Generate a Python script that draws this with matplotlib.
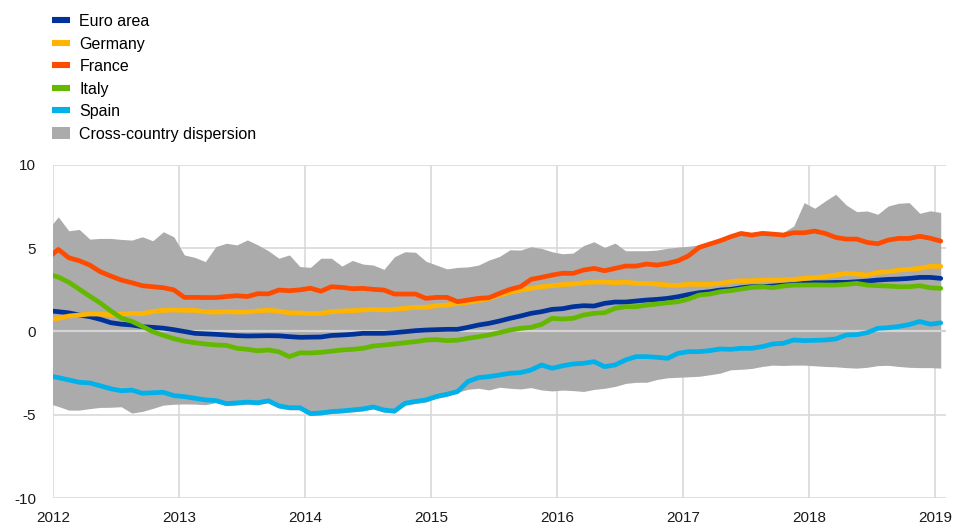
import numpy as np
import matplotlib
matplotlib.use('Agg')
import matplotlib.pyplot as plt
from matplotlib.lines import Line2D
from matplotlib.patches import Patch

# ==========================================
# 1. 全局配置
# ==========================================
plt.rcParams['font.family'] = ['Liberation Sans', 'DejaVu Sans']
plt.rcParams['font.size'] = 10.5
plt.rcParams['axes.unicode_minus'] = False

# ==========================================
# 2. 数据 (月度, 2011-12 ... 2019-01, 画在月中)
# ==========================================
start_year = 2012
n_months = 86  # Dec 2011 .. Jan 2019

euro_area = [1.25, 1.19, 1.12, 0.99, 0.89, 0.73, 0.53, 0.44, 0.39, 0.29, 0.25, 0.20, 0.11,
             0.00, -0.11, -0.14, -0.17, -0.21, -0.25, -0.27, -0.26, -0.25, -0.26, -0.31, -0.35,
             -0.34, -0.33, -0.24, -0.21, -0.17, -0.11, -0.11, -0.11, -0.07, -0.01, 0.05, 0.09,
             0.11, 0.13, 0.13, 0.25, 0.39, 0.49, 0.63, 0.79, 0.93, 1.09, 1.19, 1.33,
             1.37, 1.49, 1.55, 1.53, 1.69, 1.77, 1.77, 1.83, 1.89, 1.93, 1.99, 2.09,
             2.22, 2.33, 2.39, 2.49, 2.53, 2.63, 2.69, 2.69, 2.73, 2.79, 2.83, 2.89,
             2.93, 2.93, 2.95, 2.95, 2.99, 3.03, 3.09, 3.13, 3.15, 3.19, 3.25, 3.25, 3.19]

germany = [0.70, 0.79, 0.93, 0.99, 1.05, 1.05, 1.00, 1.05, 1.09, 1.07, 1.20, 1.27, 1.29,
           1.27, 1.27, 1.18, 1.16, 1.19, 1.17, 1.17, 1.23, 1.28, 1.22, 1.12, 1.11,
           1.08, 1.09, 1.19, 1.23, 1.25, 1.29, 1.33, 1.29, 1.33, 1.39, 1.45, 1.45,
           1.55, 1.59, 1.69, 1.75, 1.85, 1.99, 2.19, 2.35, 2.49, 2.59, 2.69, 2.75,
           2.82, 2.85, 2.93, 2.97, 2.97, 2.93, 2.97, 2.89, 2.89, 2.85, 2.79, 2.77,
           2.84, 2.83, 2.83, 2.89, 2.99, 3.05, 3.05, 3.09, 3.09, 3.09, 3.13, 3.19,
           3.24, 3.29, 3.39, 3.49, 3.45, 3.39, 3.55, 3.59, 3.69, 3.73, 3.79, 3.91, 3.91]

france = [4.40, 4.93, 4.43, 4.25, 3.99, 3.59, 3.33, 3.09, 2.93, 2.75, 2.69, 2.63, 2.50,
          2.05, 2.05, 2.04, 2.04, 2.10, 2.15, 2.10, 2.27, 2.26, 2.49, 2.45, 2.50,
          2.60, 2.42, 2.69, 2.65, 2.57, 2.59, 2.53, 2.49, 2.25, 2.25, 2.25, 1.99,
          2.05, 2.05, 1.79, 1.89, 1.99, 2.03, 2.29, 2.53, 2.69, 3.13, 3.25, 3.39,
          3.50, 3.49, 3.69, 3.79, 3.65, 3.79, 3.93, 3.93, 4.05, 3.99, 4.09, 4.25,
          4.55, 5.05, 5.25, 5.45, 5.69, 5.89, 5.79, 5.89, 5.85, 5.79, 5.93, 5.93,
          6.03, 5.89, 5.65, 5.55, 5.55, 5.35, 5.27, 5.49, 5.59, 5.59, 5.72, 5.60, 5.43]

italy = [3.45, 3.27, 2.96, 2.54, 2.12, 1.71, 1.24, 0.81, 0.61, 0.31, -0.01, -0.23, -0.43,
         -0.58, -0.67, -0.75, -0.81, -0.83, -1.01, -1.07, -1.16, -1.11, -1.22, -1.51, -1.28,
         -1.29, -1.25, -1.18, -1.11, -1.07, -1.01, -0.87, -0.81, -0.75, -0.67, -0.61, -0.51,
         -0.49, -0.55, -0.52, -0.41, -0.31, -0.21, -0.07, 0.09, 0.19, 0.25, 0.43, 0.79,
         0.75, 0.79, 0.99, 1.09, 1.13, 1.39, 1.49, 1.49, 1.59, 1.65, 1.73, 1.79,
         1.95, 2.19, 2.25, 2.39, 2.45, 2.55, 2.65, 2.69, 2.63, 2.73, 2.79, 2.79,
         2.80, 2.79, 2.79, 2.83, 2.89, 2.79, 2.75, 2.73, 2.69, 2.69, 2.75, 2.63, 2.59]

spain = [-2.65, -2.77, -2.91, -3.05, -3.09, -3.26, -3.44, -3.56, -3.52, -3.71, -3.68, -3.65, -3.85,
         -3.91, -4.01, -4.11, -4.15, -4.33, -4.29, -4.24, -4.28, -4.16, -4.47, -4.58, -4.58,
         -4.93, -4.89, -4.81, -4.77, -4.71, -4.65, -4.53, -4.72, -4.78, -4.31, -4.20, -4.11,
         -3.90, -3.77, -3.61, -3.00, -2.77, -2.71, -2.61, -2.51, -2.47, -2.31, -2.01, -2.21,
         -2.06, -1.95, -1.91, -1.81, -2.11, -2.01, -1.71, -1.51, -1.51, -1.55, -1.61, -1.31,
         -1.21, -1.21, -1.15, -1.05, -1.07, -1.01, -1.01, -0.91, -0.75, -0.71, -0.51, -0.55,
         -0.53, -0.51, -0.45, -0.21, -0.19, -0.07, 0.19, 0.23, 0.30, 0.42, 0.60, 0.44, 0.52]

disp_high = [6.10, 6.89, 6.05, 6.13, 5.55, 5.59, 5.59, 5.53, 5.49, 5.69, 5.45, 5.99, 5.69,
             4.60, 4.45, 4.20, 5.10, 5.30, 5.20, 5.50, 5.20, 4.85, 4.40, 4.60, 3.90,
             3.85, 4.40, 4.40, 3.93, 4.27, 4.05, 3.99, 3.73, 4.49, 4.79, 4.76, 4.22,
             3.99, 3.76, 3.85, 3.88, 3.99, 4.29, 4.51, 4.91, 4.89, 5.09, 4.99, 4.79,
             4.67, 4.71, 5.16, 5.39, 5.05, 5.31, 4.85, 4.85, 4.85, 4.89, 5.00, 5.07,
             5.12, 5.20, 5.40, 5.60, 5.85, 6.00, 5.95, 6.05, 6.00, 5.95, 6.33, 7.74,
             7.40, 7.84, 8.24, 7.60, 7.20, 7.24, 7.04, 7.54, 7.70, 7.74, 7.10, 7.25, 7.15]

disp_low = [-4.30, -4.50, -4.72, -4.72, -4.63, -4.56, -4.55, -4.52, -4.90, -4.80, -4.62, -4.42, -4.37,
            -4.35, -4.36, -4.40, -4.27, -4.45, -4.41, -4.36, -4.40, -4.28, -4.59, -4.70, -4.70,
            -5.05, -5.01, -4.93, -4.89, -4.83, -4.77, -4.65, -4.84, -4.90, -4.43, -4.32, -4.23,
            -4.02, -3.89, -3.65, -3.47, -3.41, -3.51, -3.35, -3.41, -3.45, -3.37, -3.51, -3.57,
            -3.52, -3.55, -3.60, -3.48, -3.41, -3.30, -3.12, -3.05, -3.05, -2.88, -2.78, -2.75,
            -2.72, -2.69, -2.60, -2.50, -2.30, -2.27, -2.22, -2.10, -2.02, -2.04, -2.02, -2.02,
            -2.06, -2.10, -2.12, -2.17, -2.20, -2.15, -2.05, -2.03, -2.10, -2.15, -2.17, -2.17, -2.20]

year_ticks = [2012, 2013, 2014, 2015, 2016, 2017, 2018, 2019]
y_ticks = [-10, -5, 0, 5, 10]

series = [
    ('Euro area', euro_area, '#003299'),
    ('Germany', germany, '#FFB400'),
    ('France', france, '#FF4B00'),
    ('Italy', italy, '#65B800'),
    ('Spain', spain, '#00B1EA'),
]
band_color = '#ABABAB'
band_label = 'Cross-country dispersion'

# 月中位置 (年的小数)
x = start_year + (np.arange(n_months) - 1 + 0.5) / 12.0

# ==========================================
# 3. 绘图
# ==========================================
fig = plt.figure(figsize=(9.6, 5.24), dpi=100)
ax = fig.add_axes([53 / 960, 1 - 498 / 524, (946 - 53) / 960, (498 - 165) / 524])

ax.fill_between(x, disp_low, disp_high, color=band_color, linewidth=0, zorder=2)
ax.axhline(0, color='#D4D4D4', linewidth=1.6, zorder=3)

# 按图例顺序画, 后画的在上面
for name, vals, col in series:
    ax.plot(x, vals, color=col, linewidth=3.4, solid_capstyle='round',
            solid_joinstyle='round', zorder=4)

ax.set_xlim(2012, 2019 + 1 / 12)
ax.set_ylim(-10, 10)
ax.set_xticks(year_ticks)
ax.set_xticklabels([str(y) for y in year_ticks])
ax.set_yticks(y_ticks)
ax.grid(True, color='#D9D9D9', linewidth=1.2, zorder=0)
ax.set_axisbelow(True)
for s in ax.spines.values():
    s.set_visible(False)
ax.tick_params(axis='both', length=0, labelsize=11, colors='#1a1a1a')
ax.tick_params(axis='x', pad=9)
ax.tick_params(axis='y', pad=12)

# 图例 (左上角, 图外)
handles = [Line2D([0], [0], color=col, linewidth=4.4, solid_capstyle='butt')
           for name, vals, col in series]
handles.append(Patch(facecolor=band_color, edgecolor='none'))
labels = [name for name, vals, col in series] + [band_label]
fig.legend(handles, labels, loc='upper left', bbox_to_anchor=(52 / 960, 1 - 14 / 524),
           frameon=False, borderpad=0, borderaxespad=0, handlelength=1.1,
           handleheight=0.8, handletextpad=0.62, labelspacing=0.47, fontsize=11.5)

fig.savefig('out.png', dpi=100)
plt.close(fig)
